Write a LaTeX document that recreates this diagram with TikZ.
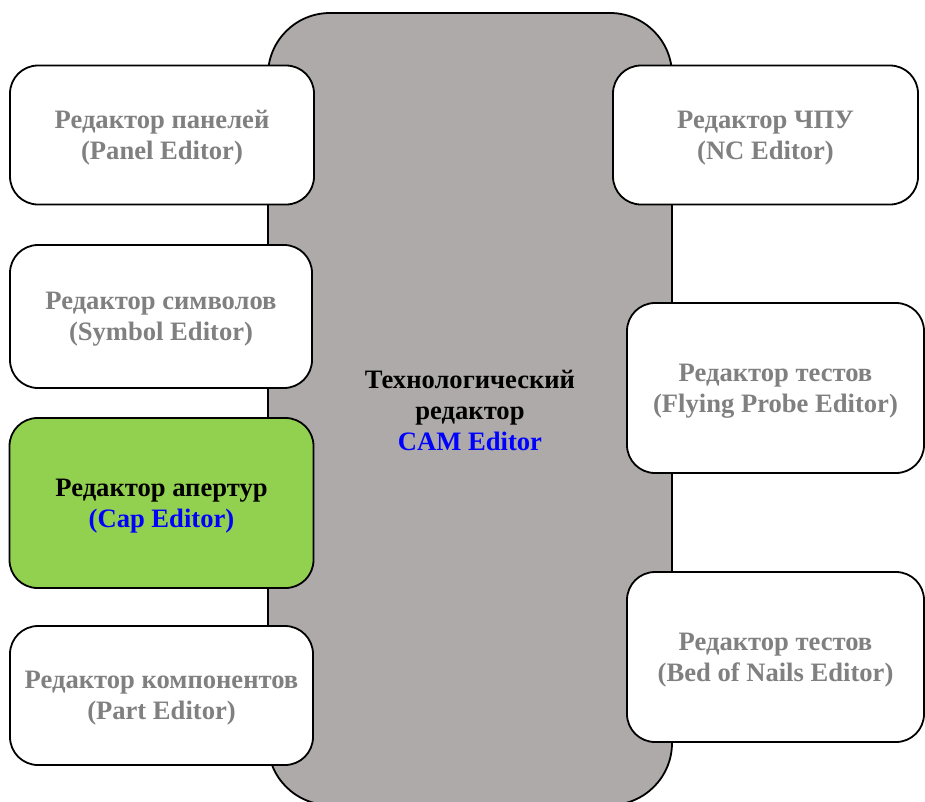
\documentclass[tikz,border=0pt]{standalone}
\usepackage{fontspec}
\setmainfont{Liberation Serif}
\usepackage{xcolor}
\usetikzlibrary{positioning}

\definecolor{camgray}{RGB}{174,170,169}
\definecolor{capgreen}{RGB}{146,208,80}
\definecolor{textgray}{RGB}{128,128,128}
\definecolor{textblue}{RGB}{0,0,255}

\tikzset{
	editor/.style = {draw = black, line width = 1.8pt, fill = white, rounded corners = 28pt,
		align = center, inner sep = 0pt, text = textgray, text depth = -4pt,
		font = \fontsize{26.6}{31}\selectfont\bfseries},
	active/.style = {editor, fill = capgreen, text = black, text depth = -10pt},
}

\begin{document}
\begin{tikzpicture}[x = 1pt, y = -1pt]
	%picture frame
	\useasboundingbox (0,0) rectangle (925,801);
	\clip (0,0) rectangle (925,801);
	
	%central block
	\draw [fill = camgray, line width = 1.8pt, rounded corners = 62pt] (268,13) rectangle (672,805);
	\node (cam) [align = center, font = \fontsize{26.6}{31}\selectfont\bfseries] at (470,410)
		{Технологический\\редактор\\\textcolor{textblue}{CAM Editor}};
	
	%editors on the left
	\node (panel) [editor, minimum width = 304pt, minimum height = 139pt] at (162,135)
		{Редактор панелей\\(Panel Editor)};
	\node (symbol) [editor, minimum width = 302pt, minimum height = 143pt] at (161,316.5)
		{Редактор символов\\(Symbol Editor)};
	\node (cap) [active, minimum width = 304pt, minimum height = 170pt] at (161.5,503)
		{Редактор апертур\\\textcolor{textblue}{(Cap Editor)}};
	\node (part) [editor, minimum width = 303pt, minimum height = 139pt] at (161.5,695.5)
		{Редактор компонентов\\(Part Editor)};
	
	%editors on the right
	\node (nc) [editor, minimum width = 305pt, minimum height = 139pt] at (765.5,135)
		{Редактор ЧПУ\\(NC Editor)};
	\node (probe) [editor, minimum width = 297pt, minimum height = 170pt] at (775.5,388)
		{Редактор тестов\\(Flying Probe Editor)};
	\node (nails) [editor, minimum width = 297pt, minimum height = 170pt] at (775.5,657)
		{Редактор тестов\\(Bed of Nails Editor)};
\end{tikzpicture}
\end{document}
